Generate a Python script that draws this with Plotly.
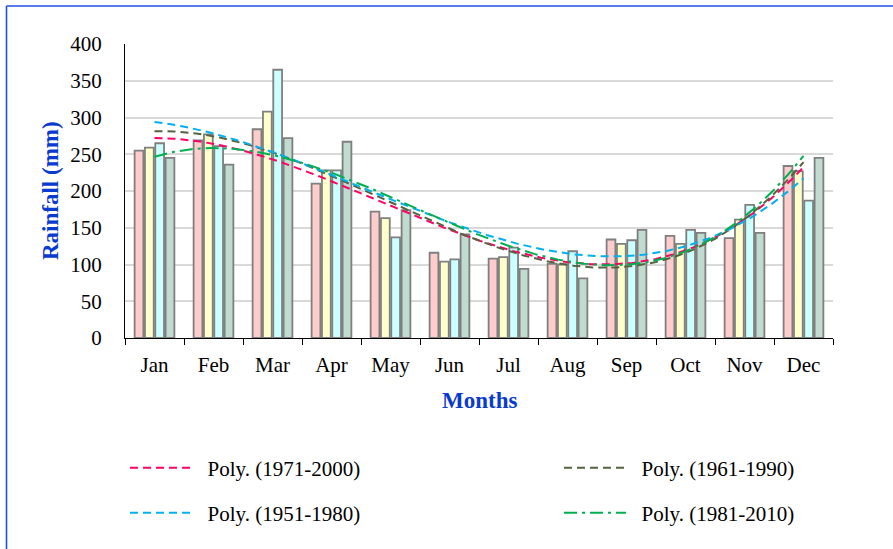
import numpy as np
import plotly.graph_objects as go

# Monthly rainfall (mm) for four climatological normal periods
months = ["Jan", "Feb", "Mar", "Apr", "May", "Jun",
          "Jul", "Aug", "Sep", "Oct", "Nov", "Dec"]

rain_1971_2000 = [255, 269, 284, 210, 172, 116, 108, 101, 134, 139, 136, 234]
rain_1961_1990 = [259, 277, 308, 228, 163, 104, 110, 100, 128, 128, 161, 227]
rain_1951_1980 = [265, 261, 365, 228, 137, 107, 123, 118, 133, 147, 181, 187]
rain_1981_2010 = [245, 236, 272, 267, 174, 141, 94, 81, 147, 143, 143, 245]

y_ticks = [0, 50, 100, 150, 200, 250, 300, 350, 400]

TREND_ORDER = 3  # polynomial trendline order

# Canvas geometry (px)
W, H = 893, 549
ML, MR, MT, MB = 125, 60, 44, 211
PW, PH = W - ML - MR, H - MT - MB

SERIF = "Liberation Serif, Times New Roman, serif"
BLUE = "#0A3BD0"
NBSP = "\u00a0"

# name, values, bar fill, trend colour, trend dash, legend id, legend anchor (px)
series = [
    ("1971-2000", rain_1971_2000, "#FFCCCC", "#FF0066", "8px,5px", "legend", (125, 468)),
    ("1961-1990", rain_1961_1990, "#FFFFCC", "#56633F", "8px,5px", "legend2", (559, 468)),
    ("1951-1980", rain_1951_1980, "#CCFFFF", "#00B0F0", "8px,5px", "legend3", (125, 513)),
    ("1981-2010", rain_1981_2010, "#C0DBCF", "#00B050", "13px,5px,3px,5px", "legend4", (559, 513)),
]

fig = go.Figure()

for name, vals, fill, *_ in series:
    fig.add_trace(go.Bar(
        x=months, y=vals, name=name, showlegend=False,
        marker=dict(color=fill, line=dict(color="#7F7F7F", width=1.8)),
        hoverinfo="x+y+name",
    ))

# Polynomial trendlines, fitted on month index 1..12
xs = np.arange(1, len(months) + 1)
xf = np.linspace(1, len(months), 300)
legends = {}
for name, vals, _, color, dash, leg, (lx, ly) in series:
    coef = np.polyfit(xs, vals, TREND_ORDER)
    fig.add_trace(go.Scatter(
        x=xf, y=np.polyval(coef, xf), xaxis="x2", mode="lines",
        name=f"{NBSP * 2}Poly. ({name})", legend=leg,
        line=dict(color=color, width=2, dash=dash),
        hoverinfo="skip",
    ))
    legends[leg] = dict(
        orientation="h", xref="container", yref="container",
        xanchor="left", yanchor="middle",
        x=lx / W, y=(H - ly) / H,
        itemwidth=62, font=dict(family=SERIF, size=21, color="#000000"),
        bgcolor="rgba(0,0,0,0)", borderwidth=0,
    )


def px_x(px):
    return (px - ML) / PW


def px_y(py):
    return (MT + PH - py) / PH


fig.update_layout(
    width=W, height=H,
    margin=dict(l=ML, r=MR, t=MT, b=MB, pad=0, autoexpand=False),
    paper_bgcolor="white", plot_bgcolor="white",
    barmode="group", bargap=0.30, bargroupgap=0.15,
    font=dict(family=SERIF, size=21, color="#000000"),
    xaxis=dict(
        type="category", showline=True, linecolor="#000000", linewidth=1,
        ticks="outside", tickson="boundaries", ticklen=6, tickcolor="#000000",
        showgrid=False, tickfont=dict(family=SERIF, size=21),
        ticklabelstandoff=8,
    ),
    xaxis2=dict(
        overlaying="x", range=[0.5, len(months) + 0.5], visible=False,
    ),
    yaxis=dict(
        range=[0, 400], tickvals=y_ticks, showline=True, linecolor="#000000",
        linewidth=1, ticks="", showgrid=True, gridcolor="#D9D9D9",
        gridwidth=1.5, zeroline=False, tickfont=dict(family=SERIF, size=21),
        ticklabelstandoff=18,
    ),
    annotations=[
        dict(text="<b>Rainfall (mm)</b>", xref="paper", yref="paper",
             x=px_x(50), y=0.5, xanchor="center", yanchor="middle",
             textangle=-90, showarrow=False,
             font=dict(family=SERIF, size=23, color=BLUE)),
        dict(text="<b>Months</b>", xref="paper", yref="paper",
             x=px_x(479), y=px_y(400), xanchor="center", yanchor="middle",
             showarrow=False,
             font=dict(family=SERIF, size=23, color=BLUE)),
    ],
    shapes=[
        dict(type="line", xref="paper", yref="paper",
             x0=px_x(6.5), x1=px_x(6.5), y0=px_y(6), y1=px_y(H),
             line=dict(color="#1F4FE0", width=1.6)),
        dict(type="line", xref="paper", yref="paper",
             x0=px_x(6.5), x1=px_x(W), y0=px_y(6), y1=px_y(6),
             line=dict(color="#1F4FE0", width=1.6)),
    ],
    **legends,
)

fig.write_html("out.html")
